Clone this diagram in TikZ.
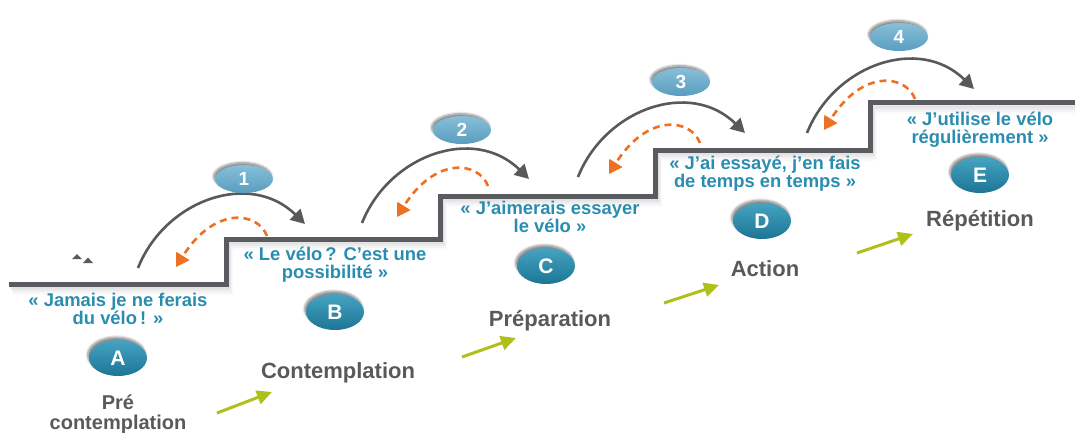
\documentclass[tikz,border=0pt]{standalone}
\usepackage{fontspec}
\setmainfont{Liberation Sans}
\usetikzlibrary{shapes.geometric,arrows.meta,shadows.blur}

\definecolor{stair}{HTML}{5A5B5F}
\definecolor{qblue}{HTML}{2A8DB0}
\definecolor{sgray}{HTML}{58595B}
\definecolor{numtop}{HTML}{86BFD9}
\definecolor{numbot}{HTML}{5A9DBE}
\definecolor{lettop}{HTML}{45A3C2}
\definecolor{letbot}{HTML}{1D7594}
\definecolor{dorange}{HTML}{EE7022}
\definecolor{lgreen}{HTML}{B0C01A}
\definecolor{agray}{HTML}{58595B}

\begin{document}
\begin{tikzpicture}[x=1pt,y=-1pt,
  numb/.style={ellipse, minimum width=58pt, minimum height=28pt, inner sep=0pt,
    top color=numtop, bottom color=numbot, text=white,
    font=\bfseries\fontsize{19}{19}\selectfont,
    blur shadow={shadow xshift=-1.5pt, shadow yshift=2.5pt, shadow blur steps=6, shadow opacity=45}},
  lett/.style={ellipse, minimum width=58pt, minimum height=36pt, inner sep=0pt,
    top color=lettop, bottom color=letbot, text=white,
    font=\bfseries\fontsize{21}{21}\selectfont,
    blur shadow={shadow xshift=-1.5pt, shadow yshift=3pt, shadow blur steps=6, shadow opacity=45}},
  quote/.style={text=qblue, font=\bfseries\fontsize{18.4}{17.8}\selectfont, align=center, inner sep=0pt, anchor=base},
  stage/.style={text=sgray, font=\bfseries\fontsize{22}{16}\selectfont, align=center, inner sep=0pt, anchor=base},
  fwd/.style={draw=agray, line width=2.6pt, -{Triangle[length=14pt,width=15pt]}},
  back/.style={draw=dorange, line width=2.6pt, dash pattern=on 7pt off 5pt, -{Triangle[length=13pt,width=15pt]}},
  grn/.style={draw=lgreen, line width=3pt, -{Triangle[length=15pt,width=14pt]}},
  stairline/.style={draw=stair, line width=5pt},
]
\useasboundingbox (0,0) rectangle (1075,433);

% staircase shadow
\foreach \o/\op in {2/0.10,4/0.08,6/0.06,8/0.04}{
  \draw[gray, line width=6pt, opacity=\op, shift={(\o*0.5,\o)}]
    (9,284) -- (226,284) -- (226,239) -- (440,239) -- (440,196) -- (655,196)
    -- (655,150) -- (870,150) -- (870,103) -- (1075,103);
}
% staircase
\coordinate (s0) at (9,284);
\coordinate (s1) at (226,284);
\coordinate (s2) at (226,239);
\coordinate (s3) at (440,239);
\coordinate (s4) at (440,196);
\coordinate (s5) at (655,196);
\coordinate (s6) at (655,150);
\coordinate (s7) at (870,150);
\coordinate (s8) at (870,103);
\coordinate (s9) at (1078,103);
\draw[stairline] (s0) -- (s1) -- (s2) -- (s3) -- (s4) -- (s5) -- (s6) -- (s7) -- (s8) -- (s9);

% small triangles
\fill[stair] (72,259) -- (77,254) -- (82,259) -- cycle;
\fill[stair] (83,263) -- (88,257.5) -- (93,263) -- cycle;

% forward arrows
\foreach \dx/\dy [count=\i] in {0/0,224/-45,440/-91,669/-135}{
  \coordinate (fs\i) at (138+\dx,268+\dy);
  \coordinate (fe\i) at (305+\dx,224+\dy);
  \draw[fwd] (fs\i) .. controls +(27,-68) and +(-55,-54) .. (fe\i);
}
% backward dashed arrows
\foreach \dx/\dy [count=\i] in {0/0,221/-50,433/-93,648/-137}{
  \coordinate (bs\i) at (267+\dx,236+\dy);
  \coordinate (be\i) at (176+\dx,267+\dy);
  \draw[back] (bs\i) .. controls +(-9,-24) and +(39,-62) .. (be\i);
}
% green arrows
\foreach \ax/\ay/\bx/\by [count=\i] in {217/413/272/392, 462/357/516/338, 664/303/719/285, 857/253/913/234}{
  \coordinate (gs\i) at (\ax,\ay);
  \coordinate (ge\i) at (\bx,\by);
  \draw[grn] (gs\i) -- (ge\i);
}

% number ellipses
\node[numb] (n1) at (244,179) {1};
\node[numb] (n2) at (462,130) {2};
\node[numb] (n3) at (681,82) {3};
\node[numb] (n4) at (899,37) {4};

% letter ellipses
\node[lett] (lA) at (118,358) {A};
\node[lett] (lB) at (335,312) {B};
\node[lett] (lC) at (546,266) {C};
\node[lett] (lD) at (762,221) {D};
\node[lett] (lE) at (980,175) {E};

% quotes (anchor base = baseline of the last line)
\node[quote] (qA) at (118,324.3) {« Jamais je ne ferais\\du vélo\,! »};
\node[quote] (qB) at (335,278.5) {« Le vélo\,? C’est une\\possibilité »};
\node[quote] (qC) at (550,232.7) {« J’aimerais essayer\\le vélo »};
\node[quote] (qD) at (765,187.3) {« J’ai essayé, j’en fais\\de temps en temps »};
\node[quote] (qE) at (980,143.3) {« J’utilise le vélo\\régulièrement »};

% stage labels
\node[stage, font=\bfseries\fontsize{20}{19.5}\selectfont] (sA) at (118,429) {Pré\\contemplation};
\node[stage] (sB) at (338,378.3) {Contemplation};
\node[stage] (sC) at (550,326) {Préparation};
\node[stage] (sD) at (765,276) {Action};
\node[stage] (sE) at (980,226) {Répétition};
\end{tikzpicture}
\end{document}
